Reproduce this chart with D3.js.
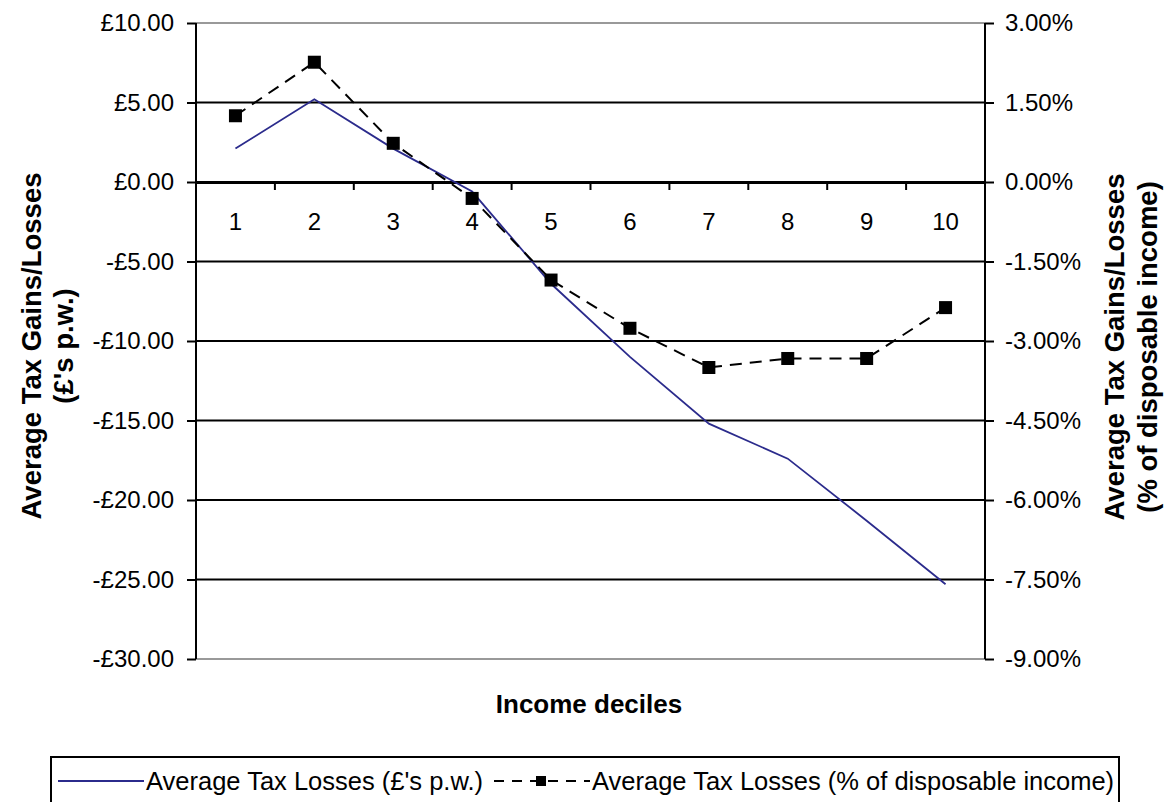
<!DOCTYPE html>
<html><head><meta charset="utf-8">
<script src="https://cdn.jsdelivr.net/npm/d3@7"></script>
<style>body{margin:0;background:#fff}svg{display:block;font-family:"Liberation Sans",Arial,sans-serif}</style>
</head><body>
<script>
const deciles = ["1","2","3","4","5","6","7","8","9","10"];
const lossPounds = [2.1, 5.2, 2.1, -0.6, -6.4, -11.0, -15.2, -17.4, -21.3, -25.3];
const lossPct = [1.25, 2.26, 0.73, -0.31, -1.85, -2.76, -3.5, -3.33, -3.33, -2.37];
const leftTicks = [10, 5, 0, -5, -10, -15, -20, -25, -30];
const rightTicks = [3, 1.5, 0, -1.5, -3, -4.5, -6, -7.5, -9];
const seriesNames = ["Average Tax Losses (£'s p.w.)", "Average Tax Losses (% of disposable income)"];

const W = 1169, H = 802;
const svg = d3.select("body").append("svg").attr("width", W).attr("height", H);
const m = {l: 196, r: 985, t: 23, b: 659};

const x = d3.scaleBand().domain(deciles).range([m.l, m.r]);
const yL = d3.scaleLinear().domain([-30, 10]).range([m.b, m.t]);
const yR = d3.scaleLinear().domain([-9, 3]).range([m.b, m.t]);

const fmtL = v => (v < 0 ? "-" : "") + "£" + Math.abs(v).toFixed(2);
const fmtR = v => v.toFixed(2) + "%";

// gridlines
svg.append("g").selectAll("line").data(leftTicks).join("line")
  .attr("x1", m.l).attr("x2", m.r)
  .attr("y1", d => yL(d)).attr("y2", d => yL(d))
  .attr("stroke", d => (d === 10 || d === -30) ? "#999" : "#000")
  .attr("stroke-width", 2);

// left axis
const gL = svg.append("g").attr("transform", `translate(${m.l},0)`)
  .call(d3.axisLeft(yL).tickValues(leftTicks).tickFormat(fmtL).tickSize(9).tickPadding(13));
gL.select(".domain").attr("stroke", "#000").attr("stroke-width", 2).attr("d", `M0,${m.t}V${m.b}`);
gL.selectAll(".tick line").attr("stroke", "#000").attr("stroke-width", 2);
gL.selectAll("text").attr("font-size", 24).attr("fill", "#000").attr("font-family", "Liberation Sans, Arial");

// right axis
const gR = svg.append("g").attr("transform", `translate(${m.r},0)`)
  .call(d3.axisRight(yR).tickValues(rightTicks).tickFormat(fmtR).tickSize(9).tickPadding(11));
gR.select(".domain").attr("stroke", "#000").attr("stroke-width", 2).attr("d", `M0,${m.t}V${m.b}`);
gR.selectAll(".tick line").attr("stroke", "#000").attr("stroke-width", 2);
gR.selectAll("text").attr("font-size", 24).attr("fill", "#000").attr("font-family", "Liberation Sans, Arial");

// x axis on zero line
const y0 = yL(0) + 1;
svg.append("line").attr("x1", m.l).attr("x2", m.r).attr("y1", y0).attr("y2", y0).attr("stroke", "#000").attr("stroke-width", 2);
svg.append("g").selectAll("line").data(deciles.slice(1)).join("line")
  .attr("x1", d => x(d)).attr("x2", d => x(d))
  .attr("y1", y0).attr("y2", y0 + 7).attr("stroke", "#000").attr("stroke-width", 2);
svg.append("g").selectAll("text").data(deciles).join("text")
  .attr("x", d => x(d) + x.bandwidth() / 2).attr("y", y0 + 47)
  .attr("text-anchor", "middle").attr("font-size", 24).text(d => d);

// series lines
const lineL = d3.line().x((d, i) => x(deciles[i]) + x.bandwidth() / 2).y(d => yL(d));
const lineR = d3.line().x((d, i) => x(deciles[i]) + x.bandwidth() / 2).y(d => yR(d));

svg.append("path").datum(lossPounds).attr("d", lineL).attr("fill", "none")
  .attr("stroke", "#2b2b8c").attr("stroke-width", 1.8);
svg.append("path").datum(lossPct).attr("d", lineR).attr("fill", "none")
  .attr("stroke", "#000").attr("stroke-width", 2).attr("stroke-dasharray", "12,8");
svg.append("g").selectAll("rect").data(lossPct).join("rect")
  .attr("x", (d, i) => x(deciles[i]) + x.bandwidth() / 2 - 6.5)
  .attr("y", d => yR(d) - 6.5).attr("width", 13).attr("height", 13).attr("fill", "#000");

// axis titles
svg.append("text").attr("x", 589).attr("y", 713).attr("text-anchor", "middle")
  .attr("font-size", 26).attr("font-weight", "bold").text("Income deciles");

const tl = svg.append("text").attr("transform", "translate(0,346) rotate(-90)")
  .attr("text-anchor", "middle").attr("font-size", 27.5).attr("font-weight", "bold");
tl.append("tspan").attr("x", 0).attr("y", 41).text("Average Tax Gains/Losses");
tl.append("tspan").attr("x", 0).attr("y", 73).text("(£'s p.w.)");

const tr = svg.append("text").attr("transform", "translate(0,347) rotate(-90)")
  .attr("text-anchor", "middle").attr("font-size", 27.5).attr("font-weight", "bold");
tr.append("tspan").attr("x", 0).attr("y", 1124).text("Average Tax Gains/Losses");
tr.append("tspan").attr("x", 0).attr("y", 1157).text("(% of disposable income)");

// legend
const lg = svg.append("g");
lg.append("rect").attr("x", 51).attr("y", 757).attr("width", 1068).attr("height", 70)
  .attr("fill", "none").attr("stroke", "#000").attr("stroke-width", 2);
const ly = 781;
lg.append("line").attr("x1", 58).attr("x2", 144).attr("y1", ly).attr("y2", ly).attr("stroke", "#2b2b8c").attr("stroke-width", 2);
lg.append("text").attr("x", 146).attr("y", ly + 9).attr("font-size", 25.5).text(seriesNames[0]);
lg.append("line").attr("x1", 494).attr("x2", 590).attr("y1", ly).attr("y2", ly).attr("stroke", "#000").attr("stroke-width", 2).attr("stroke-dasharray", "10,8");
lg.append("rect").attr("x", 536).attr("y", ly - 5).attr("width", 10).attr("height", 10).attr("fill", "#000");
lg.append("text").attr("x", 592).attr("y", ly + 9).attr("font-size", 25.5).text(seriesNames[1]);
</script>
</body></html>
